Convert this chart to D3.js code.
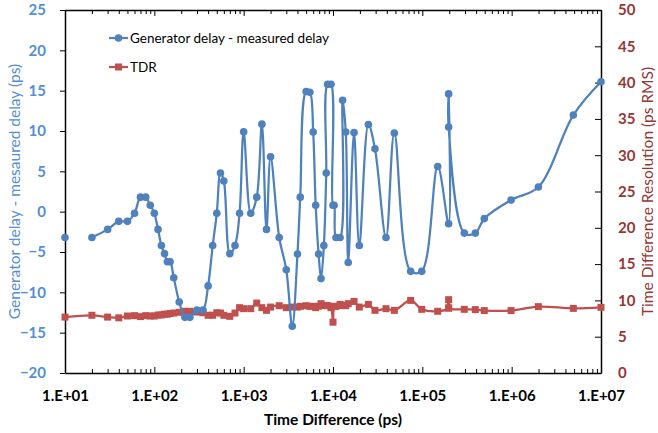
<!DOCTYPE html>
<html><head><meta charset="utf-8">
<script src="https://cdn.jsdelivr.net/npm/d3@7"></script>
<style>
html,body{margin:0;padding:0;background:#fff;}
svg{display:block;font-family:Lato,"Open Sans",sans-serif;}
</style></head>
<body>
<svg id="c" width="658" height="433"></svg>
<script>
// Time difference (ps)
const timeDiff = [10,20,30,40,50,60,70,80,90,100,110,120,130,140,150,165,190,220,250,300,350,400,450,500,550,600,700,800,900,1000,1200,1400,1600,1800,2000,2500,3000,3500,4000,4300,5000,5500,6000,6400,6900,7350,7900,8400,8700,9500,10000,10300,10800,12000,12800,13900,14800,17200,19700,24900,29500,39200,48600,74000,98500,148600,197000,197000,197000,295000,392000,494000,985000,1990000,4900000,10000000];
// Generator delay - measured delay (ps), left axis
const genDelay = [-3.2,-3.2,-2.2,-1.2,-1.2,-0.2,1.8,1.8,0.8,-0.2,-2.2,-4.2,-5.2,-6.2,-6.2,-8.2,-11.2,-13.1,-13.1,-12.2,-12.2,-9.2,-4.2,-0.2,4.8,3.8,-5.2,-4.2,-0.2,9.9,-0.2,1.8,10.85,-2.2,6.8,-3.2,-7.2,-14.2,-5.25,1.8,14.9,14.8,9.87,0.8,-5.25,-8.3,-4.2,4.8,15.8,15.8,0.8,0.8,-3.2,-3.2,13.8,9.87,-6.3,9.8,-4.2,10.8,7.8,-3.2,9.75,-7.4,-7.4,5.6,-1.5,14.6,10.5,-2.66,-2.66,-0.86,1.45,3.05,11.97,16.1];
// TDR time difference resolution (ps RMS), right axis
const tdr = [7.7,7.95,7.7,7.6,7.85,7.9,7.77,7.9,7.85,7.85,7.99,7.99,8.1,8.1,8.2,8.26,8.36,8.5,8.5,8.4,8.3,7.95,7.95,8.3,8.26,7.95,7.8,8.26,9.0,8.86,8.86,9.63,9.0,8.63,9.08,9.27,9.0,9.08,9.08,9.18,9.27,9.18,9.18,9.0,9.2,9.55,9.3,9.3,9.27,9.0,7.0,9.18,9.18,9.45,9.3,9.27,9.55,9.86,9.08,9.45,8.63,8.86,8.63,10.0,8.77,8.5,8.95,10.1,8.95,8.77,8.73,8.6,8.6,9.14,8.9,9.04];
const xTicks = [1e1,1e2,1e3,1e4,1e5,1e6,1e7];
const xTickLabels = ["1.E+01","1.E+02","1.E+03","1.E+04","1.E+05","1.E+06","1.E+07"];
const leftTicks = [-20,-15,-10,-5,0,5,10,15,20,25];
const rightTicks = [0,5,10,15,20,25,30,35,40,45,50];

const blue = "#4F81BD", red = "#C0504D";
const blueText = "#558ED5", redText = "#953735";
const L = 65, R = 601, T = 10, B = 373;

const svg = d3.select("#c");
const x = d3.scaleLog().domain([10,1e7]).range([L,R]);
const yL = d3.scaleLinear().domain([-20,25]).range([B,T]);
const yR = d3.scaleLinear().domain([0,50]).range([B,T]);

// minor tick values
const minor = [];
for (let e=1;e<7;e++) for (let m=2;m<=9;m++) minor.push(m*Math.pow(10,e));

// Bottom axis (ticks inward)
const gB = svg.append("g").attr("transform",`translate(0,${B})`);
gB.call(d3.axisBottom(x).tickValues(xTicks).tickFormat((d,i)=>xTickLabels[i]).tickSizeInner(-6).tickSizeOuter(0).tickPadding(17));
gB.append("g").call(d3.axisBottom(x).tickValues(minor).tickFormat("").tickSizeInner(-4).tickSizeOuter(0)).select(".domain").remove();
// Top axis (ticks inward)
const gT = svg.append("g").attr("transform",`translate(0,${T})`);
gT.call(d3.axisTop(x).tickValues(xTicks).tickFormat("").tickSizeInner(-6).tickSizeOuter(0));
gT.append("g").call(d3.axisTop(x).tickValues(minor).tickFormat("").tickSizeInner(-4).tickSizeOuter(0)).select(".domain").remove();
// Left axis
const gL = svg.append("g").attr("transform",`translate(${L},0)`);
gL.call(d3.axisLeft(yL).tickValues(leftTicks).tickSizeInner(5).tickSizeOuter(0).tickPadding(14));
// Right axis
const gR = svg.append("g").attr("transform",`translate(${R},0)`);
gR.call(d3.axisRight(yR).tickValues(rightTicks).tickSizeInner(-6).tickSizeOuter(0).tickPadding(17));

svg.selectAll(".domain").attr("stroke","#000").attr("stroke-width",1.5);
svg.selectAll(".tick line").attr("stroke","#000").attr("stroke-width",1);
gB.selectAll(".tick text").attr("font-size",15).attr("font-weight","bold").attr("fill","#000").attr("font-family","Lato");
gL.selectAll(".tick text").attr("font-size",15).attr("font-weight","bold").attr("fill",blueText).attr("font-family","Lato");
gR.selectAll(".tick text").attr("font-size",15).attr("font-weight","bold").attr("fill",redText).attr("font-family","Lato");

// Data
const pts = timeDiff.map((t,i)=>({t, g:genDelay[i], r:tdr[i]}));
const curve = d3.curveCatmullRom.alpha(0.5);
const lineR = d3.line().x(d=>x(d.t)).y(d=>yR(d.r)).curve(curve);
const lineB = d3.line().x(d=>x(d.t)).y(d=>yL(d.g)).curve(curve);

svg.append("path").attr("d",lineR(pts)).attr("fill","none").attr("stroke",red).attr("stroke-width",2.25);
svg.selectAll("rect.tdr").data(pts).enter().append("rect").attr("class","tdr")
  .attr("x",d=>x(d.t)-3.5).attr("y",d=>yR(d.r)-3.5).attr("width",7).attr("height",7).attr("fill",red);

// first reading is not connected to the rest
svg.append("path").attr("d",lineB(pts.slice(1))).attr("fill","none").attr("stroke",blue).attr("stroke-width",2.25);
svg.selectAll("circle.gen").data(pts).enter().append("circle").attr("class","gen")
  .attr("cx",d=>x(d.t)).attr("cy",d=>yL(d.g)).attr("r",3.8).attr("fill",blue);

// Legend
const lg = svg.append("g");
lg.append("line").attr("x1",109).attr("x2",128).attr("y1",38).attr("y2",38).attr("stroke",blue).attr("stroke-width",2.25);
lg.append("circle").attr("cx",118.5).attr("cy",38).attr("r",3.8).attr("fill",blue);
lg.append("text").attr("x",130).attr("y",38).attr("dy","0.35em").attr("font-size",13.5).attr("fill","#000").text("Generator delay - measured delay");
lg.append("line").attr("x1",109).attr("x2",128).attr("y1",67).attr("y2",67).attr("stroke",red).attr("stroke-width",2.25);
lg.append("rect").attr("x",115).attr("y",63.5).attr("width",7).attr("height",7).attr("fill",red);
lg.append("text").attr("x",130).attr("y",67).attr("dy","0.35em").attr("font-size",13.5).attr("fill","#000").text("TDR");

// Axis titles
svg.append("text").attr("x",(L+R)/2).attr("y",420).attr("dy","0.35em").attr("text-anchor","middle")
  .attr("font-size",15.5).attr("font-weight","bold").attr("fill","#000").text("Time Difference (ps)");
svg.append("text").attr("transform",`translate(15,${(T+B)/2}) rotate(-90)`).attr("text-anchor","middle").attr("dy","0.35em")
  .attr("font-size",15.5).attr("fill",blueText).text("Generator delay - mesaured delay (ps)");
svg.append("text").attr("transform",`translate(648,${(T+B)/2}) rotate(-90)`).attr("text-anchor","middle").attr("dy","0.35em")
  .attr("font-size",15.5).attr("fill",redText).text("Time Difference Resolution (ps RMS)");
</script>
</body></html>
